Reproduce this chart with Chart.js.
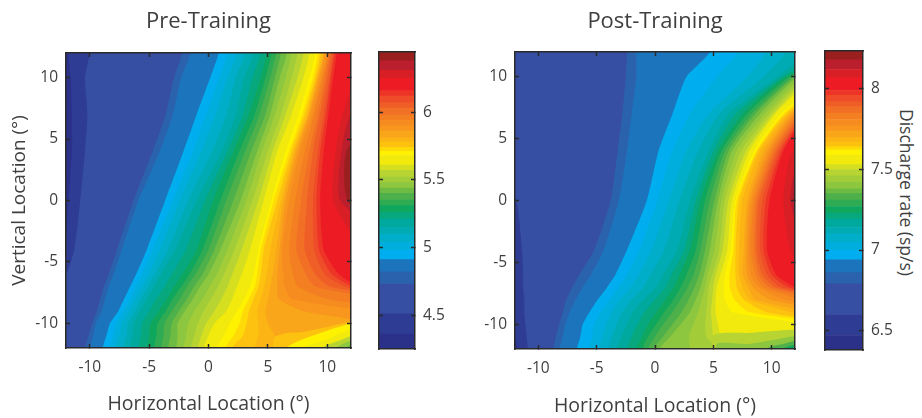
<!DOCTYPE html>
<html>
<head>
<meta charset="utf-8">
<script src="https://cdn.jsdelivr.net/npm/chart.js@4/dist/chart.umd.min.js"></script>
<style>
  html, body { margin: 0; padding: 0; background: #fff; }
  #wrap { position: relative; width: 922px; height: 418px; overflow: hidden; }
  canvas { position: absolute; }
  #cb-label {
    position: absolute; left: 895px; top: 109px; writing-mode: vertical-rl;
    font: 17.5px "Open Sans", sans-serif; color: #3f3f41; white-space: nowrap;
  }
</style>
</head>
<body>
<div id="wrap">
  <canvas id="pre-map"></canvas>
  <canvas id="pre-bar"></canvas>
  <canvas id="post-map"></canvas>
  <canvas id="post-bar"></canvas>
  <div id="cb-label">Discharge rate (sp/s)</div>
</div>
<script>
const axisTicks = [-10, -5, 0, 5, 10];
const preBarTicks = [4.5, 5, 5.5, 6];
const postBarTicks = [6.5, 7, 7.5, 8];

// band colours, low to high, shared by both panels
const bandColors = [
  "#2b3088", "#2e3c94", "#374fa2", "#2b62ae", "#1c75bc", "#00aeef", "#00aedd", "#00aec9", "#00abb3",
  "#00a99d", "#07a87e", "#0fa65e", "#2fab54", "#4eb04a", "#6ebb44", "#8dc63f", "#a2cd39", "#b7d433",
  "#d5df20", "#f2ea0d", "#fff200", "#fedb08", "#fdc20f", "#fcb415", "#faa61a", "#f8961d", "#f68c1f",
  "#f47e22", "#f26f26", "#f05e28", "#ef4c29", "#ee3427", "#ed1c24", "#d81f26", "#bb1e2c", "#99201f"
];

// lower edge of each band, sp/s
const preLevels = [4.25, 4.36, 4.51, 4.73, 4.82, 4.91, 4.98, 5.04, 5.10, 5.15, 5.21, 5.26, 5.31, 5.35, 5.40, 5.44, 5.48, 5.52, 5.57, 5.61, 5.68, 5.71, 5.74, 5.78, 5.81, 5.86, 5.90, 5.94, 5.98, 6.03, 6.07, 6.12, 6.16, 6.25, 6.31, 6.38];
const preTop = 6.445;
const postLevels = [6.38, 6.47, 6.60, 6.79, 6.86, 6.94, 7.00, 7.05, 7.10, 7.14, 7.19, 7.23, 7.27, 7.31, 7.35, 7.38, 7.42, 7.46, 7.50, 7.53, 7.59, 7.62, 7.64, 7.67, 7.70, 7.74, 7.77, 7.81, 7.85, 7.89, 7.92, 7.96, 7.99, 8.07, 8.12, 8.18];
const postTop = 8.235;

// vertical locations at which the contours below were read
const rowY = [-12, -11, -10, -9, -8, -7, -6, -4, 0, 4, 7, 10, 12];

// for each band: horizontal location where it starts, per row of rowY
const preContours = [
  [-14, -14, -14, -14, -14, -14, -14, -14, -14, -14, -14, -14, -14],
  [-14, -14, -14, -14, -14, -14, -14, -12.2, -11.8, -11.5, -11.5, -11.6, -11.8],
  [-14, -14, -14, -14, -14, -13, -12, -11.3, -10.8, -10.4, -10.2, -10.4, -10],
  [-10.4, -10.1, -9.8, -9.4, -9.1, -8.8, -8.4, -7.7, -6.3, -4.7, -3.6, -2.9, -2.2],
  [-10, -9.7, -9.5, -9, -8.7, -8.4, -8, -7.3, -5.9, -4.1, -3, -2.3, -1.5],
  [-8.9, -8.6, -8.3, -7.6, -7.1, -6.6, -6.1, -5.2, -3.65, -2.1, -1, 0.15, 0.85],
  [-8.3, -8, -7.8, -7.2, -6.6, -6.1, -5.6, -4.7, -3, -1.3, -0.2, 0.9, 1.6],
  [-7.8, -7.5, -7.3, -6.7, -6.2, -5.6, -5, -4.1, -2.4, -0.6, 0.6, 1.6, 2.4],
  [-7.2, -6.9, -6.8, -6.2, -5.7, -5.1, -4.5, -3.4, -1.7, 0.3, 1.5, 2.3, 3.1],
  [-6.6, -6.4, -6.3, -5.8, -5.2, -4.6, -4, -2.8, -1, 1.1, 2.3, 3, 3.8],
  [-5.9, -5.7, -5.6, -5, -4.4, -3.7, -3.1, -1.9, -0.3, 1.6, 2.9, 3.7, 4.4],
  [-5.2, -5, -4.9, -4.2, -3.5, -2.9, -2.2, -1, 0.4, 2.1, 3.4, 4.4, 4.9],
  [-4.6, -4.4, -4.3, -3.6, -3, -2.3, -1.6, -0.5, 1, 2.6, 3.9, 4.8, 5.3],
  [-4, -3.8, -3.7, -3.1, -2.4, -1.8, -1.1, 0, 1.5, 3.1, 4.3, 5.2, 5.7],
  [-3.4, -3.2, -3.1, -2.5, -1.8, -1.2, -0.5, 0.5, 2.1, 3.6, 4.8, 5.6, 6.1],
  [-2.7, -2.6, -2.6, -2, -1.3, -0.7, 0, 1, 2.7, 4.1, 5.2, 6, 6.6],
  [-2.1, -1.9, -1.7, -1.2, -0.5, 0.1, 0.7, 1.6, 3.2, 4.5, 5.6, 6.5, 7],
  [-1.5, -1.2, -0.9, -0.4, 0.2, 0.8, 1.3, 2.2, 3.7, 5, 6.1, 7, 7.5],
  [-0.9, -0.6, -0.2, 0.5, 1.1, 1.6, 2, 2.8, 4.2, 5.4, 6.5, 7.5, 8],
  [-0.4, 0, 0.5, 1.5, 2, 2.4, 2.8, 3.5, 4.65, 5.8, 7, 8, 8.5],
  [0.7, 1.3, 1.8, 2.4, 3, 3.5, 3.8, 4.2, 5.3, 6.5, 7.6, 8.5, 9],
  [1.4, 2.1, 2.6, 2.9, 3.4, 3.9, 4.1, 4.4, 5.5, 6.8, 7.9, 8.8, 9.2],
  [2, 2.9, 3.2, 3.4, 3.8, 4.2, 4.4, 4.65, 5.8, 7, 8.1, 9, 9.4],
  [3.9, 4.2, 4.2, 4.1, 4.4, 4.7, 4.9, 5.2, 6.1, 7.2, 8.3, 9.1, 9.6],
  [5.8, 5.6, 5, 4.8, 5, 5.2, 5.4, 5.7, 6.3, 7.3, 8.4, 9.2, 9.7],
  [16, 16, 14, 8, 5.9, 5.8, 5.8, 6, 6.5, 7.5, 8.5, 9.3, 9.8],
  [16, 16, 16, 13, 7, 6.4, 6.3, 6.2, 6.8, 7.7, 8.7, 9.5, 10],
  [16, 16, 16, 16, 10, 7.5, 7.1, 6.8, 7.3, 8.1, 8.9, 9.6, 10.1],
  [16, 16, 16, 16, 14, 9, 8.2, 7.4, 7.8, 8.5, 9.2, 9.8, 10.2],
  [16, 16, 16, 16, 16, 10.2, 9, 8.1, 8.3, 8.8, 9.4, 10, 10.3],
  [16, 16, 16, 16, 16, 11.5, 9.8, 8.9, 8.8, 9.2, 9.7, 10.2, 10.5],
  [16, 16, 16, 16, 16, 12.1, 10.4, 9.3, 9.1, 9.4, 9.9, 10.3, 10.6],
  [16, 16, 16, 16, 16, 12.6, 11, 9.7, 9.4, 9.7, 10.1, 10.5, 10.8],
  [16, 16, 16, 16, 16, 16, 16, 13, 10.5, 10.7, 11.3, 12.5, 16],
  [16, 16, 16, 16, 16, 16, 16, 16, 11.1, 11.2, 12, 16, 16],
  [16, 16, 16, 16, 16, 16, 16, 16, 11.7, 11.6, 14, 16, 16]
];

const postContours = [
  [-14, -14, -14, -14, -14, -14, -14, -14, -14, -14, -14, -14, -14],
  [-11.8, -12, -12.2, -12.3, -12.4, -12.5, -12.6, -12.8, -14, -14, -14, -14, -14],
  [-10.9, -11, -11.1, -11.2, -11.2, -11.3, -11.3, -11.4, -11.9, -14, -14, -14, -14],
  [-8.7, -8.5, -8.2, -7.9, -7.6, -7.1, -6.5, -5.2, -3.8, -3.2, -2.8, -2.5, -2.4],
  [-8.2, -7.9, -7.7, -7.3, -6.8, -6.2, -5.5, -4.4, -3.1, -2.4, -2, -1.6, -1.6],
  [-6.7, -6.4, -6.2, -5.6, -4.9, -4.1, -3.4, -2.4, -0.7, 0.3, 1.5, 2.7, 4.7],
  [-5.7, -5.4, -5.2, -4.6, -3.9, -3.1, -2.4, -1.3, 0.2, 1.5, 3, 5.3, 7.1],
  [-4.8, -4.5, -4.2, -3.7, -3, -2.1, -1.4, -0.3, 1.2, 2.7, 4.6, 7.9, 9.5],
  [-4, -3.7, -3.3, -2.8, -2, -1, -0.4, 0.8, 2.1, 3.7, 5.5, 9.3, 11.2],
  [-3.3, -2.9, -2.4, -1.9, -1, 0.1, 0.7, 1.9, 3, 4.6, 6.3, 10.5, 13],
  [-2.4, -2, -1.5, -0.9, 0, 0.9, 1.4, 2.5, 3.5, 5, 6.9, 10.9, 14.5],
  [-1.6, -1.1, -0.6, 0.1, 0.9, 1.6, 2.1, 3, 3.9, 5.4, 7.5, 11.2, 16],
  [-1.1, -0.6, 0.1, 0.8, 1.6, 2.2, 2.7, 3.5, 4.3, 5.7, 7.9, 11.5, 16],
  [-0.6, 0, 0.7, 1.5, 2.2, 2.8, 3.3, 3.9, 4.7, 6, 8.3, 11.8, 16],
  [-0.1, 0.7, 1.5, 2.3, 2.9, 3.4, 3.8, 4.3, 5.1, 6.3, 8.6, 12, 16],
  [0.4, 1.3, 2.2, 3, 3.5, 3.9, 4.2, 4.7, 5.4, 6.6, 9, 12.2, 16],
  [3, 2.9, 3.3, 3.7, 4, 4.3, 4.5, 5.1, 5.7, 7, 9.4, 12.6, 16],
  [5.3, 4.4, 4.3, 4.4, 4.5, 4.6, 4.9, 5.5, 6, 7.4, 9.8, 12.9, 16],
  [5.6, 5, 4.9, 4.8, 4.9, 5, 5.2, 5.8, 6.3, 7.8, 10.1, 13.2, 16],
  [6, 5.6, 5.4, 5.2, 5.2, 5.3, 5.6, 6.2, 6.6, 8.1, 10.3, 13.5, 16],
  [16, 16, 13, 6.6, 6, 5.9, 6, 6.5, 6.9, 8.5, 10.8, 14.5, 16],
  [16, 16, 15, 8, 6.8, 6.4, 6.4, 6.7, 7, 8.7, 11, 15, 16],
  [16, 16, 16, 9.5, 7.6, 7, 6.9, 6.9, 7.2, 8.8, 11.2, 15.5, 16],
  [16, 16, 16, 11.5, 8.1, 7.5, 7.2, 7.2, 7.5, 9, 11.4, 16, 16],
  [16, 16, 16, 13, 8.6, 8, 7.5, 7.6, 7.9, 9.3, 11.6, 16, 16],
  [16, 16, 16, 15, 9.8, 8.4, 7.9, 7.8, 8.1, 9.6, 11.8, 16, 16],
  [16, 16, 16, 16, 11, 8.9, 8.2, 8, 8.3, 9.8, 12, 16, 16],
  [16, 16, 16, 16, 12.5, 9.3, 8.6, 8.2, 8.5, 10, 12.2, 16, 16],
  [16, 16, 16, 16, 14, 9.8, 8.9, 8.5, 8.7, 10.2, 12.4, 16, 16],
  [16, 16, 16, 16, 15, 10.3, 9.2, 8.7, 8.9, 10.4, 12.6, 16, 16],
  [16, 16, 16, 16, 16, 10.8, 9.6, 9, 9.2, 10.6, 12.8, 16, 16],
  [16, 16, 16, 16, 16, 11.4, 10, 9.3, 9.5, 10.8, 12.9, 16, 16],
  [16, 16, 16, 16, 16, 12, 10.4, 9.6, 9.8, 11, 13, 16, 16],
  [16, 16, 16, 16, 16, 16, 13, 11.6, 11, 11.8, 16, 16, 16],
  [16, 16, 16, 16, 16, 16, 16, 13, 11.6, 12.5, 16, 16, 16],
  [16, 16, 16, 16, 16, 16, 16, 16, 11.9, 13, 16, 16, 16]
];

// the lower right corner falls off again, so those bands go over the top: [band, xs, ys]
const preCorner = [
  [22, [5.5, 6.5, 8, 10, 12.5], [-11.2, -10.8, -10.7, -10.3, -9.8]],
  [20, [6.6, 8.6, 12.5], [-12, -11.05, -9.9]],
  [19, [8, 10, 12.5], [-12, -11.3, -10.3]],
  [17, [9.6, 11, 12.5], [-12, -11.4, -10.9]],
  [15, [10.8, 12.5], [-12, -11.3]],
  [13, [11.6, 12.5], [-12, -11.7]]
];
const postCorner = [
  [17, [5, 8, 12.5], [-10.9, -10.7, -10.4]],
  [15, [5.3, 8, 10, 12.5], [-11.6, -11.6, -11.3, -10.9]],
  [13, [9.5, 11, 12.5], [-12, -11.6, -11.2]],
  [11, [11, 12.5], [-12, -11.6]]
];

const textColor = "#3f3f41";
const boxColor = "#2b2a2b";
const fontName = '"Open Sans", sans-serif';

function place(id, left, width) {
  const c = document.getElementById(id);
  c.style.left = left + "px";
  c.style.top = "0px";
  c.width = width;
  c.height = 418;
  return c;
}

function bandDataset(points, color) {
  return {
    data: points,
    showLine: true,
    fill: "shape",
    tension: 0.2,
    borderWidth: 0,
    pointRadius: 0,
    backgroundColor: color
  };
}

function contourDatasets(contours, corners) {
  const sets = contours.map((xs, i) => {
    const n = xs.length - 1;
    const pts = xs.map((x, r) => ({ x, y: rowY[r] }));
    pts.unshift({ x: xs[0], y: -14 });
    pts.push({ x: xs[n], y: 14 }, { x: 18, y: 14 }, { x: 18, y: -14 }, { x: xs[0], y: -14 });
    return bandDataset(pts, bandColors[i]);
  });
  corners.forEach(([band, xs, ys]) => {
    const pts = xs.map((x, r) => ({ x, y: ys[r] }));
    pts.unshift({ x: xs[0], y: -14 });
    pts.push({ x: 18, y: ys[ys.length - 1] }, { x: 18, y: -14 }, { x: xs[0], y: -14 });
    sets.push(bandDataset(pts, bandColors[band]));
  });
  // chart.js fills the last dataset first
  return sets.reverse();
}

function boxAxis(position, min, max, size, tickValues, extra) {
  return Object.assign({
    type: "linear",
    position,
    min,
    max,
    afterBuildTicks: (s) => { s.ticks = tickValues.map((v) => ({ value: v })); },
    afterFit: (s) => {
      if (s.isHorizontal()) s.height = size; else s.width = size;
    },
    border: { display: true, color: boxColor, width: 1.5, z: 2 },
    grid: { drawOnChartArea: false, drawTicks: true, tickLength: -4, tickColor: boxColor, tickWidth: 1.5, z: 2 },
    ticks: { display: false }
  }, extra || {});
}

function tickStyle(padding) {
  return { display: true, color: textColor, padding, maxRotation: 0, font: { family: fontName, size: 15.5 } };
}

function drawMap(id, left, width, o) {
  const scales = {
    x: boxAxis("bottom", -12, 12, 418 - o.bottom, axisTicks, {
      ticks: tickStyle(14),
      title: {
        display: true, text: "Horizontal Location (°)", color: textColor,
        font: { family: fontName, size: 19.5 }, padding: { top: 0, bottom: o.xTitleBottom }
      }
    }),
    x2: boxAxis("top", -12, 12, o.top, axisTicks, {
      title: {
        display: true, text: o.title, color: textColor,
        font: { family: fontName, size: 22 }, padding: { top: 9, bottom: 0 }
      }
    }),
    y: boxAxis("left", -12, 12, o.plotLeft, axisTicks, {
      ticks: tickStyle(12),
      title: o.yTitle ? {
        display: true, text: o.yTitle, color: textColor,
        font: { family: fontName, size: 19 }, padding: { top: 8, bottom: 0 }
      } : { display: false }
    }),
    y2: boxAxis("right", -12, 12, 0, axisTicks)
  };
  new Chart(place(id, left, width), {
    type: "scatter",
    data: { datasets: contourDatasets(o.contours, o.corners) },
    options: {
      animation: false,
      responsive: false,
      layout: { padding: { right: width - (o.plotRight - left), left: 0, top: 0, bottom: 0 } },
      plugins: { legend: { display: false }, tooltip: { enabled: false } },
      scales
    }
  });
}

function drawBar(id, left, width, o) {
  const sets = o.levels.map((lo, i) => ({
    data: [[lo, i + 1 < o.levels.length ? o.levels[i + 1] : o.top]],
    backgroundColor: bandColors[i],
    borderWidth: 0,
    barPercentage: 1,
    categoryPercentage: 1,
    grouped: false
  }));
  const edge = (position) => ({
    type: "category",
    position,
    afterFit: (s) => { s.height = position === "bottom" ? 418 - o.bottom : 0; },
    border: { display: true, color: boxColor, width: 1.5, z: 2 },
    grid: { display: false },
    ticks: { display: false }
  });
  new Chart(place(id, left, width), {
    type: "bar",
    data: { labels: ["rate"], datasets: sets },
    options: {
      animation: false,
      responsive: false,
      layout: { padding: { top: o.plotTop, left: 0, right: 0, bottom: 0 } },
      plugins: { legend: { display: false }, tooltip: { enabled: false } },
      scales: {
        x: edge("bottom"),
        x2: edge("top"),
        y: boxAxis("left", o.levels[0], o.top, o.plotLeft - left, o.ticks),
        y2: boxAxis("right", o.levels[0], o.top, left + width - o.plotRight, o.ticks, {
          ticks: Object.assign(tickStyle(12), { callback: (v) => String(v) })
        })
      }
    }
  });
}

drawMap("pre-map", 0, 370, {
  title: "Pre-Training", top: 53, bottom: 348, plotLeft: 66, plotRight: 351,
  xTitleBottom: 2, yTitle: "Vertical Location (°)",
  contours: preContours, corners: preCorner
});
drawBar("pre-bar", 370, 90, {
  levels: preLevels, top: preTop, ticks: preBarTicks,
  plotTop: 52, bottom: 349, plotLeft: 379, plotRight: 415
});
drawMap("post-map", 460, 355, {
  title: "Post-Training", top: 52, bottom: 349, plotLeft: 55, plotRight: 795,
  xTitleBottom: 0, yTitle: null,
  contours: postContours, corners: postCorner
});
drawBar("post-bar", 815, 80, {
  levels: postLevels, top: postTop, ticks: postBarTicks,
  plotTop: 51, bottom: 350, plotLeft: 825, plotRight: 863
});
</script>
</body>
</html>
